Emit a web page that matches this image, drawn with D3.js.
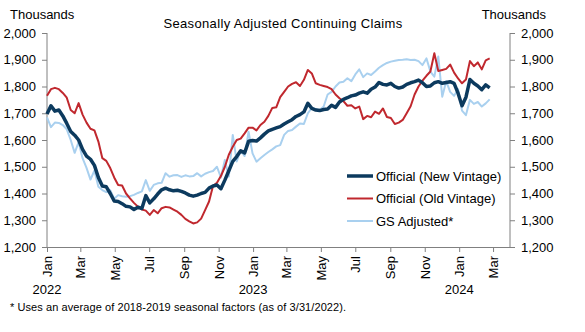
<!DOCTYPE html>
<html>
<head>
<meta charset="utf-8">
<script src="https://cdn.jsdelivr.net/npm/d3@7"></script>
<style>
    body { margin: 0; background: #fff; }
    #chart text { font-family: "Liberation Sans", Arial, sans-serif; fill: #000; }
    .axis path, .axis line { stroke: #808080; }
</style>
</head>
<body>
<div id="chart"></div>
<script>
// weekly observations, starting the week of Jan 1 2022 (thousands)
const firstWeek = new Date(2022, 0, 1);

const newVintage = [
    1697, 1728, 1708, 1712, 1690, 1662, 1632, 1618, 1600, 1565,
    1540, 1528, 1505, 1460, 1428, 1425, 1400, 1372, 1370, 1362,
    1352, 1350, 1340, 1349, 1344, 1392, 1365, 1380, 1398, 1414,
    1420, 1414, 1410, 1412, 1408, 1402, 1394, 1390, 1394, 1400,
    1404, 1420, 1428, 1432, 1418, 1450, 1485, 1520, 1538, 1560,
    1552, 1595, 1598, 1596, 1608, 1622, 1634, 1640, 1645, 1650,
    1660, 1668, 1676, 1688, 1695, 1705, 1737, 1718, 1712, 1710,
    1714, 1716, 1730, 1722, 1742, 1752, 1758, 1765, 1768, 1775,
    1780, 1775, 1790, 1798, 1815, 1808, 1806, 1812, 1800, 1794,
    1798, 1808, 1814, 1818, 1824, 1814, 1800, 1802, 1814, 1818,
    1812, 1815, 1818, 1812, 1775, 1728, 1760, 1826, 1812, 1802,
    1788, 1806, 1795
];

const oldVintage = [
    1765, 1790, 1795, 1790, 1776, 1758, 1712, 1700, 1738, 1695,
    1665, 1642, 1636, 1594, 1532, 1522, 1495, 1460, 1432, 1430,
    1400, 1382, 1365, 1351, 1340, 1336, 1320, 1338, 1326, 1345,
    1350, 1348, 1340, 1332, 1320, 1305, 1296, 1288, 1292, 1306,
    1338, 1370, 1428, 1440, 1465, 1500, 1545, 1575, 1600, 1605,
    1625, 1646, 1646, 1636, 1656, 1668, 1690, 1720, 1722, 1760,
    1780, 1800, 1810, 1816, 1802, 1825, 1862, 1849, 1812, 1806,
    1802, 1798, 1790, 1770, 1756, 1745, 1728, 1730, 1718, 1725,
    1678, 1690, 1685, 1706, 1698, 1718, 1686, 1682, 1660, 1665,
    1675, 1700, 1726, 1770, 1800, 1822, 1840, 1856, 1924, 1858,
    1862, 1866, 1882, 1852, 1830, 1812, 1826, 1895, 1876, 1890,
    1864, 1898, 1905
];

const gsAdjusted = [
    1685, 1648, 1665, 1664, 1656, 1640, 1600, 1552, 1592, 1532,
    1496, 1452, 1486, 1425, 1413, 1405, 1412, 1380, 1394, 1390,
    1388, 1390, 1395, 1402, 1408, 1450, 1410, 1432, 1438, 1440,
    1476, 1463, 1468, 1469, 1462, 1468, 1464, 1465, 1476, 1464,
    1474, 1480, 1484, 1500, 1460, 1525, 1463, 1619, 1520, 1560,
    1540, 1631, 1550, 1519, 1532, 1544, 1555, 1565, 1576, 1581,
    1619, 1634, 1637, 1650, 1662, 1660, 1700, 1720, 1716, 1712,
    1725, 1770, 1780, 1800, 1815, 1818, 1831, 1820, 1845, 1864,
    1835, 1849, 1843, 1856, 1870, 1880, 1888, 1893, 1896, 1899,
    1900, 1902, 1899, 1900, 1895, 1880, 1905, 1856, 1837, 1912,
    1762, 1820, 1780, 1765, 1790, 1710, 1693, 1750, 1735, 1742,
    1725, 1737, 1752
];

const seriesNames = ["Official (New Vintage)", "Official (Old Vintage)", "GS Adjusted*"];
const yTicks = [1200, 1300, 1400, 1500, 1600, 1700, 1800, 1900, 2000];
const yearLabels = [2022, 2023, 2024];

const W = 585, H = 332;
const plot = { left: 47, right: 510, top: 33, bottom: 247 };

const svg = d3.select("#chart")
    .append("svg")
    .attr("width", W)
    .attr("height", H);

const xScale = d3.scaleTime()
    .domain([new Date(2022, 0, 1), new Date(2024, 2, 31)])
    .range([plot.left, plot.right]);

const yScale = d3.scaleLinear()
    .domain([1200, 2000])
    .range([plot.bottom, plot.top]);

const weekDate = i => d3.timeDay.offset(firstWeek, i * 7);

// axes
const yFmt = d3.format(",");

const leftAxis = svg.append("g")
    .attr("class", "axis")
    .attr("transform", `translate(${plot.left},0)`)
    .call(d3.axisLeft(yScale).tickValues(yTicks).tickFormat(yFmt).tickSize(5).tickPadding(6));

const rightAxis = svg.append("g")
    .attr("class", "axis")
    .attr("transform", `translate(${plot.right},0)`)
    .call(d3.axisRight(yScale).tickValues(yTicks).tickFormat(yFmt).tickSize(5).tickPadding(6));

[leftAxis, rightAxis].forEach(a => {
    a.select(".domain").attr("d", `M0,${plot.top}V${plot.bottom}`);
    a.selectAll("text").style("font-size", "13px");
});

const monthTicks = d3.timeMonth.every(2).range(new Date(2022, 0, 1), new Date(2024, 2, 2));

const bottomAxis = svg.append("g")
    .attr("class", "axis")
    .attr("transform", `translate(0,${plot.bottom})`)
    .call(d3.axisBottom(xScale).tickValues(monthTicks).tickFormat(d3.timeFormat("%b")).tickSize(5).tickSizeOuter(0));

bottomAxis.selectAll("text")
    .style("font-size", "13px")
    .attr("transform", "rotate(-90)")
    .attr("text-anchor", "end")
    .attr("dy", "0.35em")
    .attr("x", -9)
    .attr("y", 0);

svg.selectAll(".year-label")
    .data(yearLabels)
    .enter()
    .append("text")
    .attr("class", "year-label")
    .attr("x", d => xScale(new Date(d, 0, 1)))
    .attr("y", 294)
    .attr("text-anchor", "middle")
    .style("font-size", "13px")
    .text(d => d);

// titles
svg.append("text")
    .attr("x", 10)
    .attr("y", 19)
    .style("font-size", "13px")
    .text("Thousands");

svg.append("text")
    .attr("x", 546)
    .attr("y", 19)
    .attr("text-anchor", "end")
    .style("font-size", "13px")
    .text("Thousands");

svg.append("text")
    .attr("x", 283)
    .attr("y", 28)
    .attr("text-anchor", "middle")
    .style("font-size", "13px")
    .style("letter-spacing", "0.35px")
    .text("Seasonally Adjusted Continuing Claims");

svg.append("text")
    .attr("x", 10)
    .attr("y", 311)
    .style("font-size", "11px")
    .style("letter-spacing", "0.08px")
    .text("* Uses an average of 2018-2019 seasonal factors (as of 3/31/2022).");

// lines
const line = d3.line()
    .x((d, i) => xScale(weekDate(i)))
    .y(d => yScale(d));

const series = [
    { name: seriesNames[2], values: gsAdjusted, color: "#a9d0ef", width: 2 },
    { name: seriesNames[1], values: oldVintage, color: "#c0282e", width: 2 },
    { name: seriesNames[0], values: newVintage, color: "#0c3a5e", width: 3.5 }
];

series.forEach(s => {
    svg.append("path")
        .datum(s.values)
        .attr("fill", "none")
        .attr("stroke", s.color)
        .attr("stroke-width", s.width)
        .attr("stroke-linejoin", "round")
        .attr("d", line);
});

// legend
const legend = svg.append("g")
    .attr("transform", "translate(347,176)");

series.slice().reverse().forEach((s, i) => {
    const row = legend.append("g").attr("transform", `translate(0,${i * 22.5})`);
    row.append("line")
        .attr("x1", 0)
        .attr("x2", 26)
        .attr("stroke", s.color)
        .attr("stroke-width", s.width);
    row.append("text")
        .attr("x", 29)
        .attr("dy", "0.35em")
        .style("font-size", "13px")
        .text(s.name);
});
</script>
</body>
</html>
